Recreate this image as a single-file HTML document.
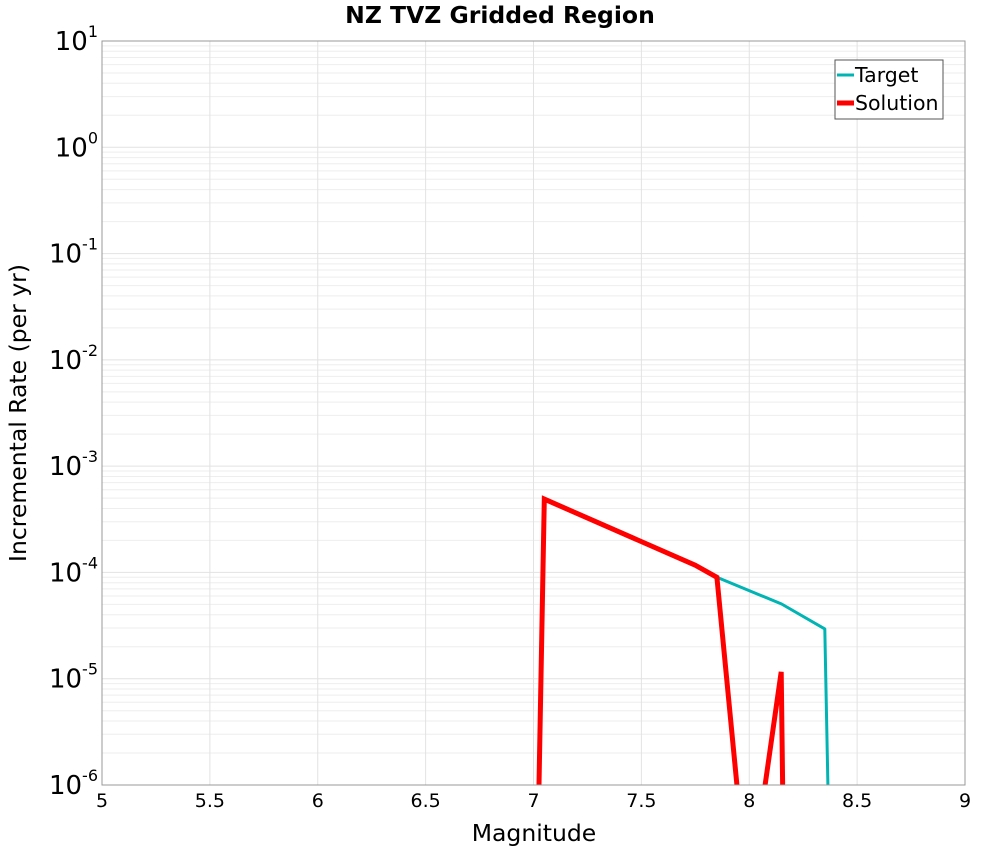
<!DOCTYPE html>
<html><head><meta charset="utf-8"><style>
body{margin:0;background:#fff;font-family:"DejaVu Sans","Liberation Sans",sans-serif}
</style></head><body>
<svg id="chart" width="1000" height="850" xmlns="http://www.w3.org/2000/svg" font-family="DejaVu Sans, Liberation Sans, sans-serif">
<text x="500" y="23" text-anchor="middle" font-size="23.5" font-weight="bold">NZ TVZ Gridded Region</text>
<g id="grid"></g>
<g id="axes"></g>
<defs><clipPath id="clip"><rect x="102" y="41" width="863" height="744"/></clipPath></defs>
<g id="series" clip-path="url(#clip)"></g>
<rect x="102" y="41" width="863" height="744" fill="none" stroke="#999" stroke-width="1"/>
<text x="534" y="841" text-anchor="middle" font-size="23.5">Magnitude</text>
<text transform="translate(26,413) rotate(-90)" text-anchor="middle" font-size="23.5">Incremental Rate (per yr)</text>
<g>
<rect x="835" y="60" width="108" height="59" fill="#fff" stroke="#555"/>
<line x1="837" y1="75" x2="854" y2="75" stroke="#00b4b4" stroke-width="3"/>
<text x="855" y="82" font-size="20.5">Target</text>
<line x1="837" y1="103" x2="854" y2="103" stroke="#ff0000" stroke-width="5"/>
<text x="855" y="110" font-size="20.5">Solution</text>
</g>
</svg>
<script>
const xTicks=[5,5.5,6,6.5,7,7.5,8,8.5,9];
const yExps=[1,0,-1,-2,-3,-4,-5,-6];
const targetX=[7.025,7.05,7.75,7.85,8.15,8.35,8.365];
const targetY=[9e-7,4.9e-4,1.17e-4,9.0e-5,5.05e-5,2.94e-5,9e-7];
const solutionX=[7.025,7.05,7.75,7.85,7.945,8.07,8.148,8.155];
const solutionY=[9e-7,4.9e-4,1.17e-4,9.0e-5,9e-7,9e-7,1.16e-5,9e-7];
const L=102,R=965,T=41,B=785;
const sx=v=>L+(v-5)/4*(R-L);
const sy=v=>T+(1-Math.log10(v))/7*(B-T);
const NS='http://www.w3.org/2000/svg';
function mk(tag,attrs,parent){const e=document.createElementNS(NS,tag);for(const k in attrs)e.setAttribute(k,attrs[k]);parent.appendChild(e);return e;}
const grid=document.getElementById('grid'),axes=document.getElementById('axes'),ser=document.getElementById('series');
for(let e=-6;e<1;e++){for(let m=2;m<10;m++){const y=sy(m*Math.pow(10,e));const l=mk('line',{x1:L,x2:R,y1:y,y2:y,stroke:'#eeeeee','stroke-width':1},grid);}}
yExps.forEach(e=>{const y=sy(Math.pow(10,e));const l=mk('line',{x1:L,x2:R,y1:y,y2:y,stroke:'#e2e2e2','stroke-width':1},grid);
const t=mk('text',{x:L-4,y:y+9,'text-anchor':'end','font-size':26},axes);
t.textContent='10';const s=mk('tspan',{dy:-13,'font-size':16},t);s.textContent=String(e);});
xTicks.forEach(v=>{const x=sx(v);const l=mk('line',{x1:x,x2:x,y1:T,y2:B,stroke:'#e2e2e2','stroke-width':1},grid);
const t=mk('text',{x:x,y:B+22,'text-anchor':'middle','font-size':19},axes);t.textContent=String(v);});
function path(xs,ys){return xs.map((x,i)=>(i?'L':'M')+sx(x).toFixed(1)+','+sy(ys[i]).toFixed(1)).join('');}
const pt=mk('path',{d:path(targetX,targetY),fill:'none',stroke:'#00b4b4','stroke-width':3,'stroke-linejoin':'round'},ser);

const ps=mk('path',{d:path(solutionX,solutionY),fill:'none',stroke:'#ff0000','stroke-width':5,'stroke-linejoin':'miter'},ser);

</script>
</body></html>
